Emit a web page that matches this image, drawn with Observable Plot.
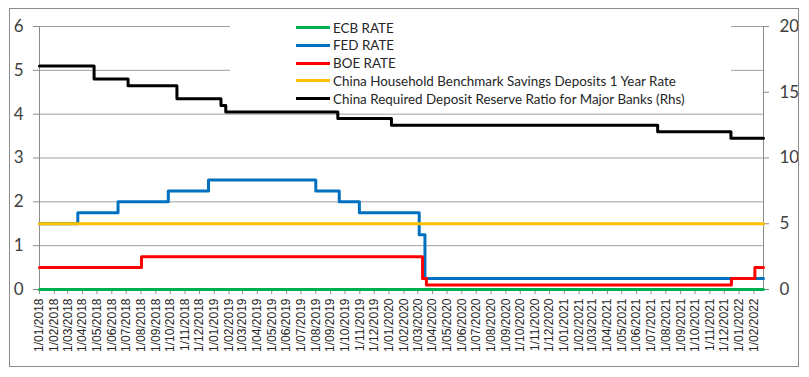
<!DOCTYPE html>
<html>
<head>
<meta charset="utf-8">
<script src="https://cdn.jsdelivr.net/npm/d3@7"></script>
<script src="https://cdn.jsdelivr.net/npm/@observablehq/plot@0.6"></script>
<style>
  html, body { margin: 0; padding: 0; background: #fff; }
  #wrap { position: relative; width: 809px; height: 377px; overflow: hidden; }
  #border { position: absolute; left: 9px; top: 8px; width: 788px; height: 357px; border: 1px solid #8c8c8c; pointer-events: none; }
  #legend { position: absolute; left: 230px; top: 15px; width: 501px; height: 92px; background: #fff; }
  .row { position: absolute; left: 0; height: 18px; display: flex; align-items: center; font-family: Lato, "Open Sans", sans-serif; font-size: 13.4px; color: #262626; white-space: nowrap; }
  .swatch { display: inline-block; width: 34px; height: 3px; margin-left: 66px; margin-right: 3px; }
</style>
</head>
<body>
<div id="wrap"></div>
<script>
// ---- data ----
const xStart = "2018-01-01";
const xEnd = "2022-02-21";

const seriesNames = [
  "ECB RATE",
  "FED RATE",
  "BOE RATE",
  "China Household Benchmark Savings Deposits 1 Year Rate",
  "China Required Deposit Reserve Ratio for Major Banks (Rhs)"
];
const seriesColors = ["#00B050", "#0070C0", "#FF0000", "#FFC000", "#000000"];

const ecbDates = ["2018-01-01"];
const ecbValues = [0];

const fedDates = ["2018-01-01", "2018-03-22", "2018-06-14", "2018-09-27", "2018-12-20",
                  "2019-08-01", "2019-09-19", "2019-10-31", "2020-03-04", "2020-03-16"];
const fedValues = [1.5, 1.75, 2.0, 2.25, 2.5, 2.25, 2.0, 1.75, 1.25, 0.25];

const boeDates = ["2018-01-01", "2018-08-02", "2020-03-11", "2020-03-19", "2021-12-16", "2022-02-03"];
const boeValues = [0.5, 0.75, 0.25, 0.1, 0.25, 0.5];

const cnDepDates = ["2018-01-01"];
const cnDepValues = [1.5];

const rrrDates = ["2018-01-01", "2018-04-25", "2018-07-05", "2018-10-15", "2019-01-15",
                  "2019-01-25", "2019-09-16", "2020-01-06", "2021-07-15", "2021-12-15"];
const rrrValues = [17, 16, 15.5, 14.5, 14, 13.5, 13, 12.5, 12, 11.5];

const leftTicks = [0, 1, 2, 3, 4, 5, 6];
const rightTicks = [0, 5, 10, 15, 20];
const xTickLabels = [
  "1/01/2018","1/02/2018","1/03/2018","1/04/2018","1/05/2018","1/06/2018","1/07/2018","1/08/2018","1/09/2018","1/10/2018","1/11/2018","1/12/2018",
  "1/01/2019","1/02/2019","1/03/2019","1/04/2019","1/05/2019","1/06/2019","1/07/2019","1/08/2019","1/09/2019","1/10/2019","1/11/2019","1/12/2019",
  "1/01/2020","1/02/2020","1/03/2020","1/04/2020","1/05/2020","1/06/2020","1/07/2020","1/08/2020","1/09/2020","1/10/2020","1/11/2020","1/12/2020",
  "1/01/2021","1/02/2021","1/03/2021","1/04/2021","1/05/2021","1/06/2021","1/07/2021","1/08/2021","1/09/2021","1/10/2021","1/11/2021","1/12/2021",
  "1/01/2022","1/02/2022"
];

// ---- build ----
const parseISO = d3.utcParse("%Y-%m-%d");
const parseLbl = d3.utcParse("%d/%m/%Y");
const x0 = parseISO(xStart), x1 = parseISO(xEnd);
const rhsFactor = 6 / 20;

function steps(dates, values, scale = 1) {
  const rows = dates.map((d, i) => ({date: parseISO(d), v: values[i] * scale}));
  rows.push({date: x1, v: values[values.length - 1] * scale});
  return rows;
}
const series = [
  steps(ecbDates, ecbValues),
  steps(fedDates, fedValues),
  steps(boeDates, boeValues),
  steps(cnDepDates, cnDepValues),
  steps(rrrDates, rrrValues, rhsFactor)
];
const xTicks = xTickLabels.map(parseLbl);
const fmt = d3.utcFormat("%-d/%m/%Y");

const axisColor = "#8c8c8c";
const chart = Plot.plot({
  width: 809,
  height: 377,
  marginLeft: 39,
  marginRight: 46,
  marginTop: 26,
  marginBottom: 88,
  style: {background: "#fff", color: "#404040", overflow: "visible"},
  x: {type: "utc", domain: [x0, x1]},
  y: {domain: [0, 6]},
  marks: [
    Plot.gridY(leftTicks, {stroke: "#a0a0a0", strokeOpacity: 1}),
    Plot.ruleX([x0, x1], {stroke: axisColor}),
    Plot.ruleY([0], {stroke: axisColor}),
    Plot.axisY({ticks: leftTicks, tickFormat: d => String(d), tickSize: 6, tickPadding: 10, fontSize: 17, fontFamily: "Lato", stroke: axisColor, fill: "#404040", label: null}),
    Plot.axisY({anchor: "right", ticks: rightTicks.map(v => v * rhsFactor), tickFormat: d => String(Math.round(d / rhsFactor)),
      tickSize: 5, tickPadding: 11, fontSize: 17, fontFamily: "Lato", stroke: axisColor, fill: "#404040", label: null}),
    Plot.axisX({ticks: xTicks, tickFormat: fmt, tickRotate: -90, tickSize: 5, tickPadding: 4, fontSize: 12,
      fontFamily: "Liberation Sans", stroke: axisColor, fill: "#262626", label: null}),
    ...series.map((s, i) => Plot.line(s, {x: "date", y: "v", curve: "step-after", stroke: seriesColors[i], strokeWidth: 3}))
  ]
});
const wrap = document.getElementById("wrap");
wrap.appendChild(chart);

// legend
const legend = document.createElement("div");
legend.id = "legend";
const rowTops = [3.5, 21.3, 39.1, 56.9, 74.7];
seriesNames.forEach((name, i) => {
  const r = document.createElement("div");
  r.className = "row";
  r.style.top = rowTops[i] + "px";
  const sw = document.createElement("span");
  sw.className = "swatch";
  sw.style.background = seriesColors[i];
  const t = document.createElement("span");
  t.textContent = name;
  r.appendChild(sw); r.appendChild(t);
  legend.appendChild(r);
});
wrap.appendChild(legend);
const border = document.createElement("div");
border.id = "border";
wrap.appendChild(border);
</script>
</body>
</html>
